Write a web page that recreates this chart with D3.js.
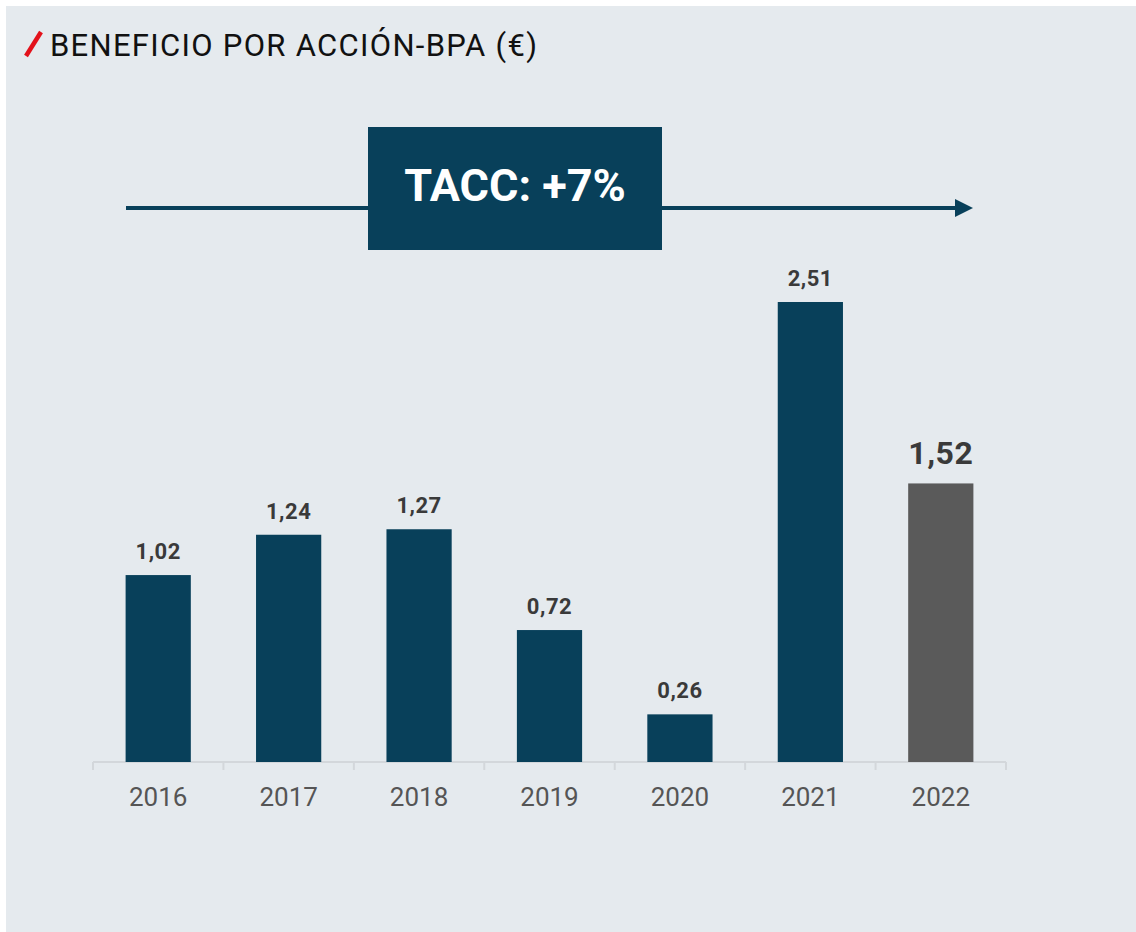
<!DOCTYPE html>
<html>
<head>
<meta charset="utf-8">
<script src="https://cdn.jsdelivr.net/npm/d3@7"></script>
<style>
  html, body { margin: 0; padding: 0; background: #ffffff; }
  svg { display: block; }
  text { font-family: Roboto, "Noto Sans", sans-serif; }
</style>
</head>
<body>
<script>
(function () {
  'use strict'

  var years = ['2016', '2017', '2018', '2019', '2020', '2021', '2022']
  var eps = [1.02, 1.24, 1.27, 0.72, 0.26, 2.51, 1.52]
  var epsLabels = ['1,02', '1,24', '1,27', '0,72', '0,26', '2,51', '1,52']
  var title = 'BENEFICIO POR ACCIÓN-BPA (€)'
  var cagrLabel = 'TACC: +7%'

  var w = 1136
  var h = 932
  var baseY = 762

  var svg = d3.select('body').append('svg')
    .attr('width', w)
    .attr('height', h)

  // panel background
  svg.append('rect')
    .attr('x', 6).attr('y', 6)
    .attr('width', w - 6).attr('height', h - 6)
    .attr('fill', '#e5eaee')

  // title
  svg.append('line')
    .attr('x1', 26).attr('y1', 56)
    .attr('x2', 41).attr('y2', 32)
    .attr('stroke', '#e3121b')
    .attr('stroke-width', 4.5)
  svg.append('text')
    .attr('x', 50).attr('y', 56)
    .attr('font-size', 31)
    .attr('letter-spacing', 1.3)
    .attr('fill', '#111')
    .text(title)

  // scales
  var x = d3.scaleBand()
    .domain(years)
    .range([93, 1006])
    .paddingInner(0.5)
    .paddingOuter(0.25)
  var y = d3.scaleLinear()
    .domain([0, 2.51])
    .range([baseY, 302])

  // CAGR arrow
  svg.append('defs').append('marker')
    .attr('id', 'head')
    .attr('viewBox', '0 0 10 10')
    .attr('refX', 0).attr('refY', 5)
    .attr('markerWidth', 4.5).attr('markerHeight', 4.5)
    .attr('markerUnits', 'strokeWidth')
    .attr('orient', 'auto')
    .append('path')
    .attr('d', 'M0,0L10,5L0,10Z')
    .attr('fill', '#08405a')
  svg.append('line')
    .attr('x1', 126).attr('y1', 208)
    .attr('x2', 955).attr('y2', 208)
    .attr('stroke', '#08405a')
    .attr('stroke-width', 4)
    .attr('marker-end', 'url(#head)')
  svg.append('rect')
    .attr('x', 368).attr('y', 127)
    .attr('width', 294).attr('height', 123)
    .attr('fill', '#08405a')
  svg.append('text')
    .attr('x', 515).attr('y', 201)
    .attr('text-anchor', 'middle')
    .attr('font-size', 45)
    .attr('font-weight', 700)
    .attr('fill', '#fff')
    .text(cagrLabel)

  // axis
  var axis = svg.append('g')
    .attr('transform', 'translate(0,' + baseY + ')')
    .call(d3.axisBottom(x).tickSize(0).tickPadding(26))
  axis.select('.domain')
    .attr('stroke', '#d3d7db')
    .attr('stroke-width', 2)
    .attr('d', 'M93,0H1006')
  axis.selectAll('text')
    .attr('font-size', 26)
    .attr('fill', '#555')
    .style('font-family', 'Roboto, sans-serif')

  var bounds = years.map(function (d) { return x(d) - x.step() * x.paddingInner() / 2 })
  bounds.push(x.range()[1])
  svg.append('g').selectAll('line')
    .data(bounds)
    .enter().append('line')
      .attr('x1', function (d) { return d })
      .attr('x2', function (d) { return d })
      .attr('y1', baseY)
      .attr('y2', baseY + 8)
      .attr('stroke', '#d3d7db')
      .attr('stroke-width', 2)

  // bars
  svg.append('g').selectAll('rect')
    .data(eps)
    .enter().append('rect')
      .attr('x', function (d, i) { return x(years[i]) })
      .attr('y', function (d) { return y(d) })
      .attr('width', x.bandwidth())
      .attr('height', function (d) { return baseY - y(d) })
      .attr('fill', function (d, i) { return i === years.length - 1 ? '#5a5a5a' : '#08405a' })

  // value labels
  svg.append('g').selectAll('text')
    .data(eps)
    .enter().append('text')
      .attr('x', function (d, i) { return x(years[i]) + x.bandwidth() / 2 })
      .attr('y', function (d, i) { return y(d) - (i === years.length - 1 ? 19 : 16) })
      .attr('text-anchor', 'middle')
      .attr('font-size', function (d, i) { return i === years.length - 1 ? 32 : 22 })
      .attr('font-weight', 700)
      .attr('letter-spacing', 0.5)
      .attr('fill', '#3a3a3a')
      .text(function (d, i) { return epsLabels[i] })
}())
</script>
</body>
</html>
